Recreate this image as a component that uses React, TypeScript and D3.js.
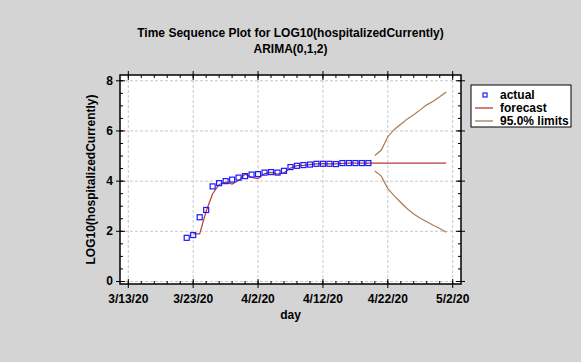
import React from "react";
import * as d3 from "d3";

const parseDay = d3.utcParse("%m/%d/%y");

// observed LOG10(hospitalizedCurrently), one per day from 3/22/20
const actualStart = "3/22/20";
const actualValues = [
  1.74, 1.85, 2.56, 2.85, 3.79, 3.92, 4.0, 4.06, 4.14, 4.2, 4.26, 4.28, 4.34,
  4.36, 4.34, 4.41, 4.56, 4.61, 4.64, 4.66, 4.69, 4.69, 4.69, 4.68, 4.72, 4.72,
  4.72, 4.72, 4.72,
];

// one-step fitted values then forecasts, one per day from 3/23/20 to 5/1/20
const forecastStart = "3/23/20";
const forecastValues = [
  1.9, 1.9, 2.8, 3.5, 3.87, 3.96, 3.88, 4.02, 4.28, 4.15, 4.1, 4.3, 4.35, 4.28,
  4.33, 4.52, 4.62, 4.63, 4.66, 4.69, 4.7, 4.69, 4.69, 4.71, 4.72, 4.72, 4.72,
  4.72, 4.72, 4.72, 4.72, 4.72, 4.72, 4.72, 4.72, 4.72, 4.72, 4.72, 4.72, 4.72,
];

// 95% limits, one per day from 4/20/20 to 5/1/20
const limitsStart = "4/20/20";
const upperLimits = [5.02, 5.24, 5.77, 6.06, 6.27, 6.48, 6.65, 6.84, 7.04, 7.18, 7.36, 7.55];
const lowerLimits = [4.4, 4.2, 3.7, 3.41, 3.15, 2.9, 2.69, 2.52, 2.38, 2.24, 2.11, 1.96];

const xTickLabels = ["3/13/20", "3/23/20", "4/2/20", "4/12/20", "4/22/20", "5/2/20"];
const yTicks = [0, 2, 4, 6, 8];

const titleLines = ["Time Sequence Plot for LOG10(hospitalizedCurrently)", "ARIMA(0,1,2)"];
const legendItems = ["actual", "forecast", "95.0% limits"];

const W = 581;
const H = 362;
const FONT = "'Liberation Sans', Arial, sans-serif";
const BLUE = "#1a1aff";
const RED = "#b83a3a";
const BROWN = "#a87a52";

const series = (start: string, vals: number[]) => {
  const s = parseDay(start)!;
  return vals.map((v, i) => ({ date: d3.utcDay.offset(s, i), v }));
};

const App: React.FC = () => {
  const plot = { left: 120, right: 461, top: 75, bottom: 284 };
  const first = parseDay(xTickLabels[0])!;
  const last = parseDay(xTickLabels[xTickLabels.length - 1])!;
  const pad = 1.28 * 864e5;

  const x = d3
    .scaleUtc()
    .domain([new Date(+first - pad), new Date(+last + pad)])
    .range([plot.left, plot.right]);
  const y = d3.scaleLinear().domain([-0.1, 8.23]).range([plot.bottom, plot.top]);

  const actual = series(actualStart, actualValues);
  const fc = series(forecastStart, forecastValues);
  const up = series(limitsStart, upperLimits);
  const lo = series(limitsStart, lowerLimits);

  const line = d3
    .line<{ date: Date; v: number }>()
    .x((d) => x(d.date))
    .y((d) => y(d.v));

  const majorX = xTickLabels.map((t) => parseDay(t)!);
  const minorX = d3.utcDay.range(first, d3.utcDay.offset(last, 1), 2);
  const minorY = d3.range(0, 8.01, 0.5);
  const fmt = d3.utcFormat("%-m/%-d/%y");

  return (
    <svg width={W} height={H} style={{ display: "block", position: "absolute", left: 0, top: 0 }}>
      <rect width={W} height={H} fill="#d4d4d4" />
      <g fontFamily={FONT} fontWeight="bold" fontSize={12} fill="#000">
        {titleLines.map((t, i) => (
          <text key={t} x={W / 2} y={37 + i * 16} textAnchor="middle">
            {t}
          </text>
        ))}
      </g>

      <rect
        x={plot.left}
        y={plot.top}
        width={plot.right - plot.left}
        height={plot.bottom - plot.top}
        fill="#fff"
      />

      {/* grid */}
      <g stroke="#c8c8c8" strokeDasharray="3,2" strokeWidth={1}>
        {majorX.map((d, i) => (
          <line key={"gx" + i} x1={x(d)} x2={x(d)} y1={plot.top} y2={plot.bottom} />
        ))}
        {yTicks.map((v) => (
          <line key={"gy" + v} x1={plot.left} x2={plot.right} y1={y(v)} y2={y(v)} />
        ))}
      </g>

      {/* limits and forecast */}
      <path d={line(up) || ""} fill="none" stroke={BROWN} strokeWidth={1.2} />
      <path d={line(lo) || ""} fill="none" stroke={BROWN} strokeWidth={1.2} />
      <path d={line(fc) || ""} fill="none" stroke={RED} strokeWidth={1.2} />

      {actual.map((d, i) => (
        <rect
          key={i}
          x={x(d.date) - 2.5}
          y={y(d.v) - 2.5}
          width={5}
          height={5}
          fill="none"
          stroke={BLUE}
          strokeWidth={1.2}
        />
      ))}

      {/* frame and ticks */}
      <rect
        x={plot.left}
        y={plot.top}
        width={plot.right - plot.left}
        height={plot.bottom - plot.top}
        fill="none"
        stroke="#000"
        strokeWidth={1.5}
      />
      <g stroke="#000" strokeWidth={1}>
        {minorX.map((d, i) => (
          <g key={"mx" + i}>
            <line x1={x(d)} x2={x(d)} y1={plot.bottom} y2={plot.bottom - 3} />
            <line x1={x(d)} x2={x(d)} y1={plot.top} y2={plot.top + 3} />
          </g>
        ))}
        {majorX.map((d, i) => (
          <g key={"Mx" + i}>
            <line x1={x(d)} x2={x(d)} y1={plot.bottom + 4} y2={plot.bottom - 5} />
            <line x1={x(d)} x2={x(d)} y1={plot.top - 4} y2={plot.top + 5} />
          </g>
        ))}
        {minorY.map((v) => (
          <g key={"my" + v}>
            <line x1={plot.left} x2={plot.left + 3} y1={y(v)} y2={y(v)} />
            <line x1={plot.right} x2={plot.right - 3} y1={y(v)} y2={y(v)} />
          </g>
        ))}
        {yTicks.map((v) => (
          <g key={"My" + v}>
            <line x1={plot.left - 4} x2={plot.left + 5} y1={y(v)} y2={y(v)} />
            <line x1={plot.right + 4} x2={plot.right - 5} y1={y(v)} y2={y(v)} />
          </g>
        ))}
      </g>

      <g fontFamily={FONT} fontWeight="bold" fontSize={12} fill="#000">
        {majorX.map((d, i) => (
          <text key={"lx" + i} x={x(d)} y={plot.bottom + 19} textAnchor="middle">
            {fmt(d)}
          </text>
        ))}
        {yTicks.map((v) => (
          <text key={"ly" + v} x={plot.left - 7} y={y(v) + 4} textAnchor="end">
            {v}
          </text>
        ))}
        <text x={(plot.left + plot.right) / 2} y={plot.bottom + 35} textAnchor="middle">
          day
        </text>
        <text
          transform={`translate(95,${(plot.top + plot.bottom) / 2}) rotate(-90)`}
          textAnchor="middle"
        >
          LOG10(hospitalizedCurrently)
        </text>
      </g>

      {/* legend */}
      <g transform="translate(471,85)">
        <rect width={100} height={42} fill="#fff" stroke="#000" strokeWidth={1} />
        {legendItems.map((t, i) => {
          const cy = 10 + i * 13;
          return (
            <g key={t}>
              {i === 0 ? (
                <rect x={12} y={cy - 2} width={4} height={4} fill="none" stroke={BLUE} strokeWidth={1.2} />
              ) : (
                <line x1={4} x2={22} y1={cy} y2={cy} stroke={i === 1 ? RED : BROWN} strokeWidth={1.3} />
              )}
              <text x={29} y={cy + 4} fontFamily={FONT} fontWeight="bold" fontSize={12}>
                {t}
              </text>
            </g>
          );
        })}
      </g>
    </svg>
  );
};

export default App;
